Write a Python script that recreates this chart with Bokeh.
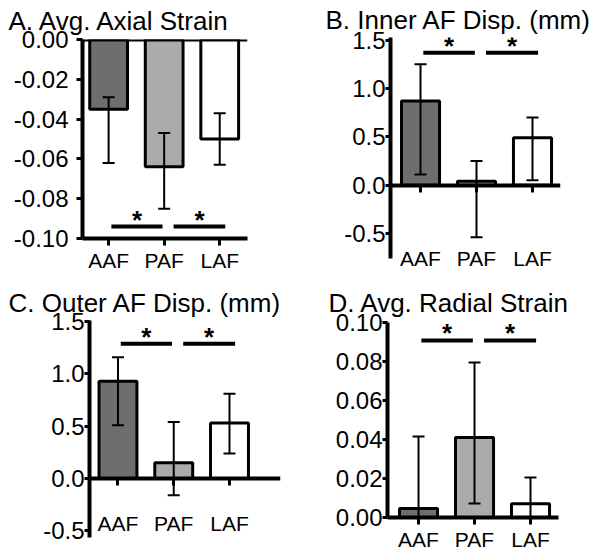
import numpy as np
from bokeh.plotting import figure
from bokeh.models import (ColumnDataSource, Whisker, TeeHead, FixedTicker,
                          PrintfTickFormatter, LinearAxis, Range1d, Span)
from bokeh.layouts import column, row
from bokeh.core.properties import value
from bokeh.embed import file_html
from bokeh.resources import INLINE

# ---------------- data ----------------
categories = ["AAF", "PAF", "LAF"]

axial_title = "A. Avg. Axial Strain"
axial_mean = [-0.035, -0.064, -0.050]
axial_upper = [-0.029, -0.047, -0.037]
axial_lower = [-0.062, -0.085, -0.063]
axial_sig = -0.094
axial_ticks = [-0.10, -0.08, -0.06, -0.04, -0.02, 0.0]

inner_title = "B. Inner AF Disp. (mm)"
inner_mean = [0.87, 0.04, 0.49]
inner_upper = [1.25, 0.25, 0.70]
inner_lower = [0.11, -0.54, 0.05]
inner_sig = 1.37
inner_ticks = [-0.5, 0.0, 0.5, 1.0, 1.5]

outer_title = "C. Outer AF Disp. (mm)"
outer_mean = [0.93, 0.15, 0.53]
outer_upper = [1.16, 0.54, 0.81]
outer_lower = [0.51, -0.16, 0.24]
outer_sig = 1.29
outer_ticks = [-0.5, 0.0, 0.5, 1.0, 1.5]

radial_title = "D. Avg. Radial Strain"
radial_mean = [0.0046, 0.041, 0.007]
radial_upper = [0.0415, 0.0795, 0.0205]
radial_lower = [0.0, 0.0072, -0.001]
radial_sig = 0.0908
radial_ticks = [0.0, 0.02, 0.04, 0.06, 0.08, 0.10]

sig_pairs = [(0, 1), (1, 2)]

# ---------------- style ----------------
FONT = "Liberation Sans"
BAR_COLORS = ["#6e6e6e", "#ababab", "#ffffff"]
SIG_SHIFT = [(0.05, -0.03), (0.17, 0.10)]


def make_panel(title, mean, lower, upper, sig, ticks, fmt, xr, yr, width, height,
               borders, title_offset, title_standoff, ylabel_standoff,
               ytick_out, xlabel_standoff, zero_axis=False, top_span=False):
    left, right, top, bottom = borders
    p = figure(width=width, height=height, x_range=Range1d(*xr), y_range=Range1d(*yr),
               output_backend="svg", toolbar_location=None, x_axis_location=None,
               min_border_left=left, min_border_right=right,
               min_border_top=top, min_border_bottom=bottom, title=title)
    p.grid.visible = False
    p.outline_line_color = None
    p.background_fill_color = "white"
    p.border_fill_color = "white"

    p.title.text_font = FONT
    p.title.text_font_size = "26px"
    p.title.text_font_style = "normal"
    p.title.text_color = "black"
    p.title.align = "left"
    p.title.offset = title_offset
    p.title.standoff = title_standoff

    ya = p.yaxis[0]
    ya.ticker = FixedTicker(ticks=ticks)
    ya.formatter = PrintfTickFormatter(format=fmt)
    ya.axis_line_width = 4
    ya.axis_line_color = "black"
    ya.major_tick_line_width = 3
    ya.major_tick_out = ytick_out
    ya.major_tick_in = 0
    ya.minor_tick_line_color = None
    ya.major_label_text_font = FONT
    ya.major_label_text_font_size = "24px"
    ya.major_label_text_color = "black"
    ya.major_label_standoff = ylabel_standoff

    overrides = {i: c for i, c in enumerate(categories)}
    xt = list(range(len(categories)))

    if not zero_axis:
        xa = LinearAxis(ticker=FixedTicker(ticks=xt), major_label_overrides=overrides,
                        axis_line_width=4, major_tick_line_width=3, major_tick_out=7,
                        major_tick_in=0, minor_tick_line_color=None,
                        major_label_text_font=FONT, major_label_text_font_size="21px",
                        major_label_text_color="black",
                        major_label_standoff=xlabel_standoff)
        p.add_layout(xa, "below")
    else:
        # zero line with category ticks
        xz = LinearAxis(ticker=FixedTicker(ticks=xt), fixed_location=0,
                        axis_line_width=4, major_tick_line_width=3, major_tick_out=7,
                        major_tick_in=0, minor_tick_line_color=None,
                        major_label_text_font_size="0px", major_label_standoff=0,
                        major_label_text_color=None)
        p.add_layout(xz, "below")
        # category labels at the foot of the value axis
        xl = LinearAxis(ticker=FixedTicker(ticks=xt), major_label_overrides=overrides,
                        axis_line_color=None, major_tick_line_color=None,
                        major_tick_out=0, major_tick_in=0, minor_tick_line_color=None,
                        major_label_text_font=FONT, major_label_text_font_size="21px",
                        major_label_text_color="black",
                        major_label_standoff=xlabel_standoff)
        p.add_layout(xl, "below")

    if top_span:
        p.add_layout(Span(location=0, dimension="width", line_color="black", line_width=4))

    src = ColumnDataSource(dict(x=np.arange(len(categories)), mean=mean,
                                lower=lower, upper=upper, color=BAR_COLORS))
    p.vbar(x="x", top="mean", bottom=0, width=0.68, fill_color="color",
           line_color="black", line_width=3, source=src)
    w = Whisker(source=src, base="x", upper="upper", lower="lower",
                line_width=2, line_color="black", level="annotation",
                upper_head=TeeHead(size=12, line_width=2, line_color="black"),
                lower_head=TeeHead(size=12, line_width=2, line_color="black"))
    p.add_layout(w)

    x0 = [a + s[0] for (a, b), s in zip(sig_pairs, SIG_SHIFT)]
    x1 = [b + s[1] for (a, b), s in zip(sig_pairs, SIG_SHIFT)]
    ys = [sig] * len(sig_pairs)
    p.segment(x0=x0, y0=ys, x1=x1, y1=ys, line_width=4, line_color="black")
    xm = [(a + b) / 2 for a, b in zip(x0, x1)]
    p.text(x=xm, y=ys, text=["*"] * len(xm), text_font=value(FONT),
           text_font_size=value("26px"), text_font_style="bold", text_align="center",
           text_baseline="middle", y_offset=-7, text_color="black")
    return p


pA = make_panel(axial_title, axial_mean, axial_lower, axial_upper, axial_sig, axial_ticks,
                "%.2f", (-0.47, 2.5), (-0.10, 0.0), 300, 280, (82, 53, 37, 42),
                -74, 7, 8, 6, 3, top_span=True)
pB = make_panel(inner_title, inner_mean, inner_lower, inner_upper, inner_sig, inner_ticks,
                "%.1f", (-0.536, 2.5), (-0.759, 1.528), 301, 280, (90, 41, 35, 22),
                -65, 5, 0, 5, -12, zero_axis=True)
pC = make_panel(outer_title, outer_mean, outer_lower, outer_upper, outer_sig, outer_ticks,
                "%.1f", (-0.511, 2.915), (-0.565, 1.512), 300, 277, (89, 20, 40, 20),
                -81, 6, 0, 5, -26, zero_axis=True)
pD = make_panel(radial_title, radial_mean, radial_lower, radial_upper, radial_sig, radial_ticks,
                "%.2f", (-0.554, 2.5), (0.0, 0.1), 301, 277, (87, 43, 42, 40),
                -59, 9, 0, 5, 3)

layout = column(row(column(pA), column(pB), spacing=0),
                row(column(pC), column(pD), spacing=0), spacing=0)
open("out.html", "w").write(file_html(layout, INLINE))
